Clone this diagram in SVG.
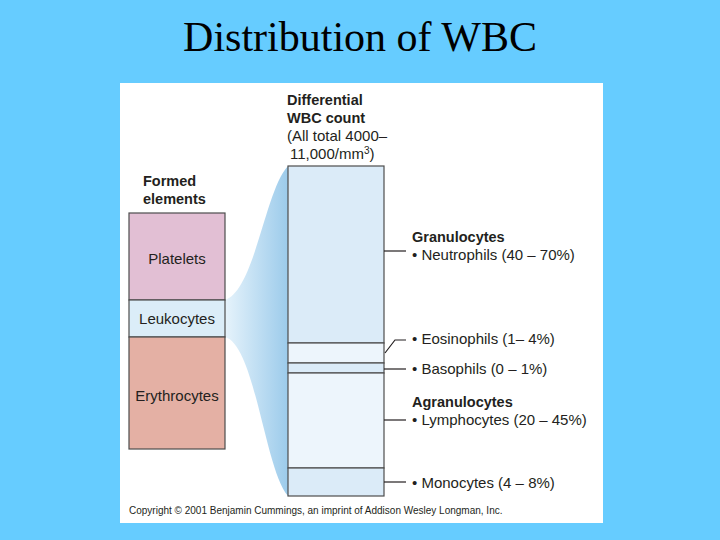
<svg xmlns="http://www.w3.org/2000/svg" width="720" height="540" viewBox="0 0 720 540">
<style>
text{font-family:"Liberation Sans",Arial,sans-serif;fill:#231f20}
.b{font-weight:bold;font-size:14.5px}
.n{font-size:15px}
.l{stroke:#231f20;stroke-width:1.2;fill:none}
.r{stroke:#4d4d4d;stroke-width:1.2}
</style>
<defs>
<linearGradient id="fan" x1="0" x2="1" y1="0" y2="0">
<stop offset="0" stop-color="#e6f3fb"/>
<stop offset="1" stop-color="#9ccbeb"/>
</linearGradient>
</defs>
<rect width="720" height="540" fill="#66ccff"/>
<text x="360" y="51" text-anchor="middle" style="font-family:'Liberation Serif',serif;font-size:42px;fill:#000">Distribution of WBC</text>
<rect x="120" y="83" width="483" height="440" fill="#fff"/>
<path d="M225,300 C255,290 265,190 288,166 L288,496 C265,470 255,345 225,337 Z" fill="url(#fan)"/>
<g id="formed">
<text class="b" x="143" y="186">Formed</text>
<text class="b" x="143" y="204">elements</text>
<rect class="r" x="129" y="213" width="96" height="87" fill="#e2bfd4"/>
<rect class="r" x="129" y="300" width="96" height="37" fill="#dbedf8"/>
<rect class="r" x="129" y="337" width="96" height="112" fill="#e4b0a4"/>
<text class="n" x="177" y="264" text-anchor="middle">Platelets</text>
<text class="n" x="177" y="324" text-anchor="middle">Leukocytes</text>
<text class="n" x="177" y="401" text-anchor="middle">Erythrocytes</text>
</g>
<g id="wbc">
<text class="b" x="287" y="105">Differential</text>
<text class="b" x="287" y="123">WBC count</text>
<text class="n" x="287" y="141">(All total 4000–</text>
<text class="n" x="290" y="159">11,000/mm<tspan font-size="10" dy="-5">3</tspan><tspan dy="5">)</tspan></text>
<rect class="r" x="288" y="166" width="96" height="177" fill="#dbebf8"/>
<rect class="r" x="288" y="343" width="96" height="20" fill="#edf5fc"/>
<rect class="r" x="288" y="363" width="96" height="10" fill="#dbebf8"/>
<rect class="r" x="288" y="373" width="96" height="95" fill="#edf5fc"/>
<rect class="r" x="288" y="468" width="96" height="28" fill="#dbebf8"/>
</g>
<g id="connectors">
<path class="l" d="M384,251 H406"/>
<path class="l" d="M385,353 L395,340 H406"/>
<path class="l" d="M384,369 H406"/>
<path class="l" d="M384,420 H406"/>
<path class="l" d="M384,482 H406"/>
</g>
<g id="labels">
<text class="b" x="412" y="242">Granulocytes</text>
<text class="n" x="412" y="260">• Neutrophils (40 – 70%)</text>
<text class="n" x="412" y="344">•  Eosinophils (1– 4%)</text>
<text class="n" x="412" y="374">• Basophils (0 – 1%)</text>
<text class="b" x="412" y="407">Agranulocytes</text>
<text class="n" x="412" y="425">• Lymphocytes (20 – 45%)</text>
<text class="n" x="412" y="488">• Monocytes (4 – 8%)</text>
</g>
<text x="129" y="514" style="font-size:10px">Copyright © 2001 Benjamin Cummings, an imprint of Addison Wesley Longman, Inc.</text>
</svg>
